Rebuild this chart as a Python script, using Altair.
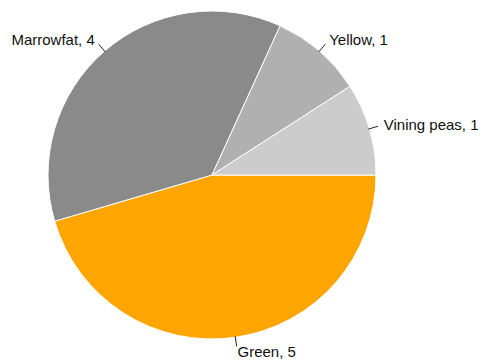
import math
import altair as alt
import pandas as pd

categories = ["Green", "Marrowfat", "Yellow", "Vining peas"]
values = [5, 4, 1, 1]
colors = ["#FFA500", "#8A8A8A", "#B0B0B0", "#CCCCCC"]

df = pd.DataFrame({"category": categories, "value": values, "idx": list(range(len(categories)))})

CX, CY, R = 212, 175, 164
START = math.pi / 2

base = alt.Chart(df).transform_joinaggregate(
    total="sum(value)"
).transform_window(
    cum="sum(value)", sort=[alt.SortField("idx")]
).transform_calculate(
    t=f"{START} + (datum.cum - datum.value / 2) / datum.total * 2 * PI",
    label="datum.category + ', ' + datum.value",
).transform_calculate(
    sx="sin(datum.t)", cy_="-cos(datum.t)",
).transform_calculate(
    x1=f"{CX} + {R - 1} * datum.sx", y1=f"{CY} + {R - 1} * datum.cy_",
    x2=f"{CX} + {R + 9} * datum.sx", y2=f"{CY} + {R + 9} * datum.cy_",
    tx=f"{CX} + {R + 15} * datum.sx", ty=f"{CY} + {R + 15} * datum.cy_",
)

xs = alt.Scale(domain=[0, 483], range=[0, 483])
ys = alt.Scale(domain=[0, 361], range=[0, 361])

pie = alt.Chart(df).mark_arc(stroke="white", strokeWidth=1, radius=R).encode(
    theta=alt.Theta("value:Q", stack=True, scale=alt.Scale(range=[START, START + 2 * math.pi])),
    order=alt.Order("idx:Q"),
    color=alt.Color("category:N", scale=alt.Scale(domain=categories, range=colors), legend=None),
    x=alt.value(CX),
    y=alt.value(CY),
)

rules = base.mark_rule(color="#222222", strokeWidth=1).encode(
    x=alt.X("x1:Q", scale=xs, axis=None),
    y=alt.Y("y1:Q", scale=ys, axis=None),
    x2="x2:Q",
    y2="y2:Q",
)

text_right = base.transform_filter("datum.sx >= 0").mark_text(
    align="left", baseline="middle", font="Liberation Sans", fontSize=15, color="#111111"
).encode(
    x=alt.X("tx:Q", scale=xs, axis=None),
    y=alt.Y("ty:Q", scale=ys, axis=None),
    text="label:N",
)

text_left = base.transform_filter("datum.sx < 0").mark_text(
    align="right", baseline="middle", font="Liberation Sans", fontSize=15, color="#111111"
).encode(
    x=alt.X("tx:Q", scale=xs, axis=None),
    y=alt.Y("ty:Q", scale=ys, axis=None),
    text="label:N",
)

chart = alt.layer(pie, rules, text_right, text_left).properties(
    width=483, height=361, padding=0, autosize=alt.AutoSizeParams(type="none")
).configure_view(stroke=None)

chart.save("out.html", embed_options={"renderer": "svg", "actions": False})
